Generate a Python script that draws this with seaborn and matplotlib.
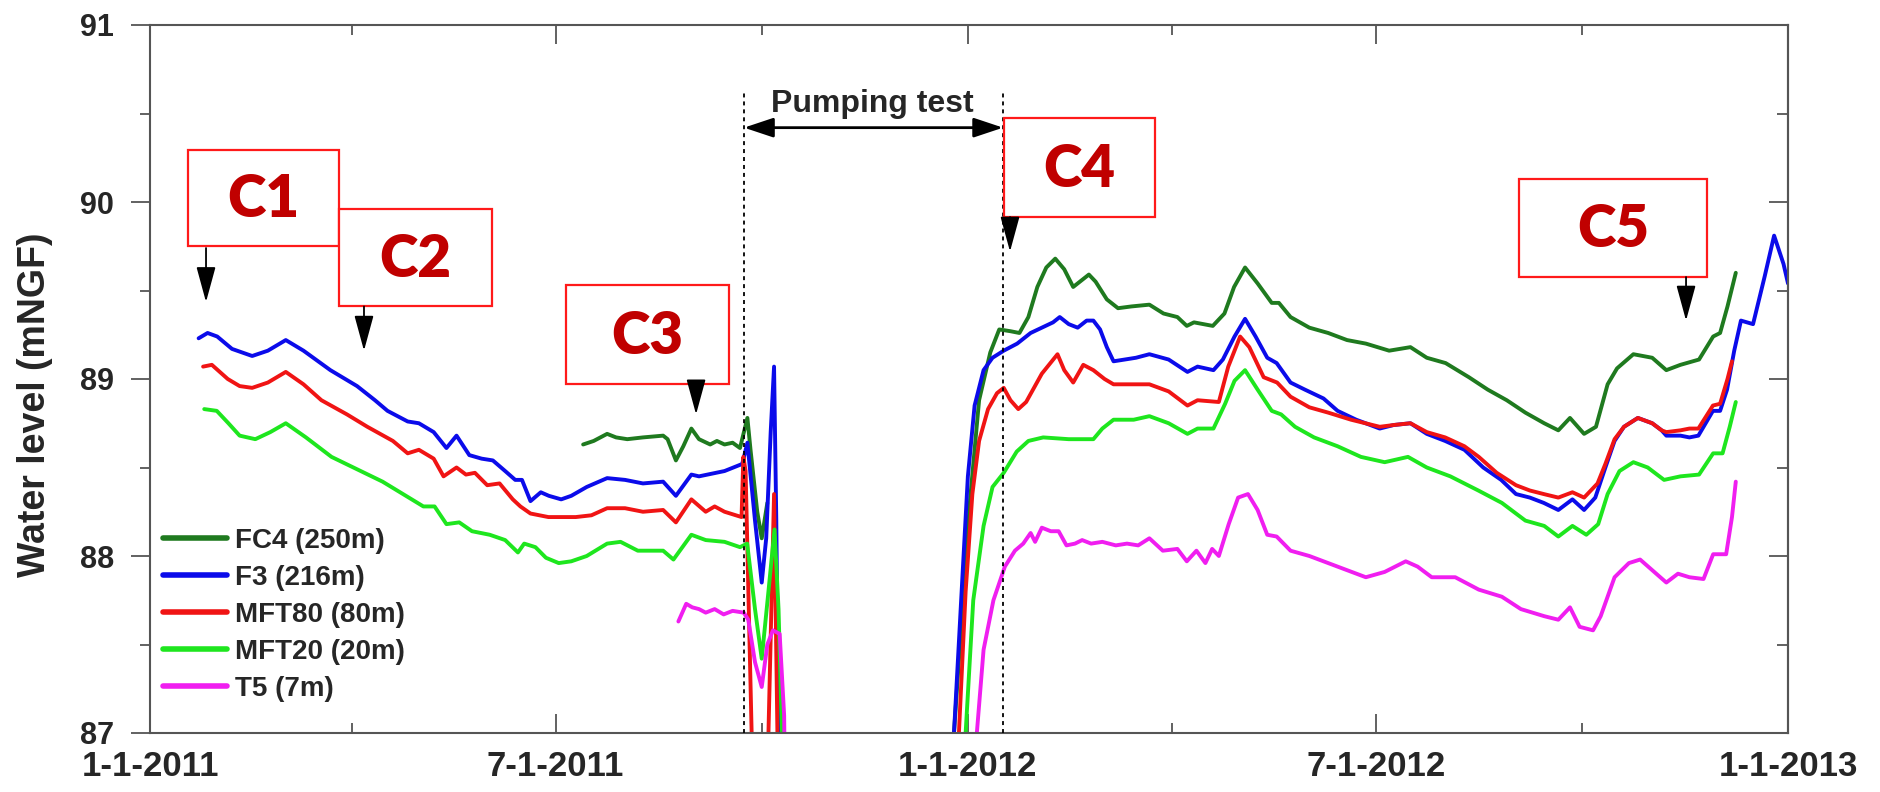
import numpy as np
import pandas as pd
import matplotlib
matplotlib.use("Agg")
import matplotlib.pyplot as plt
import matplotlib.dates as mdates
from matplotlib.ticker import MultipleLocator
from matplotlib.patches import Rectangle
import seaborn as sns

# ---------------- data (day offset from 1-1-2011, water level mNGF) ----------------
wells = ["FC4 (250m)", "F3 (216m)", "MFT80 (80m)", "MFT20 (20m)", "T5 (7m)"]
colors = ["#1f7a1f", "#0b0bea", "#f01414", "#1ee61e", "#f01ef0"]

fc4 = [(193.3, 88.63), (198, 88.65), (204, 88.69), (208, 88.67), (213, 88.66), (220, 88.67),
       (229, 88.68), (231, 88.66), (234.7, 88.54), (238, 88.62), (241.6, 88.72), (245, 88.66),
       (250, 88.63), (253, 88.65), (256.4, 88.63), (260, 88.64), (263.3, 88.61), (266.6, 88.78),
       (268, 88.6), (271, 88.25), (273, 88.10), (275.5, 88.3), None,
       (354, 86.0), (358.8, 87.0), (362, 87.6), (366, 88.32), (370, 88.88), (375, 89.15),
       (379, 89.28), (384, 89.27), (388, 89.26), (392, 89.35), (396, 89.52), (400, 89.63),
       (404, 89.68), (408, 89.62), (412, 89.52), (416, 89.56), (419, 89.59), (422, 89.55),
       (427, 89.45), (432, 89.40), (438, 89.41), (446, 89.42), (452.3, 89.37), (458.5, 89.35),
       (462.7, 89.30), (465.9, 89.32), (474.3, 89.30), (479.5, 89.37), (483.8, 89.52),
       (488.7, 89.63), (494.3, 89.54), (500.6, 89.43), (503.8, 89.43), (509, 89.35),
       (517.4, 89.29), (525.8, 89.26), (534.2, 89.22), (542.6, 89.20), (553, 89.16),
       (562.5, 89.18), (569.8, 89.12), (578.2, 89.09), (588.6, 89.01), (597, 88.94),
       (605.5, 88.88), (613.8, 88.81), (622.2, 88.75), (628.5, 88.71), (633.7, 88.78),
       (640, 88.69), (645.3, 88.73), (650.5, 88.97), (654.7, 89.06), (662, 89.14),
       (670.4, 89.12), (676.7, 89.05), (683, 89.08), (691.3, 89.11), (697.6, 89.24),
       (700.7, 89.26), (704, 89.41), (707.7, 89.60)]

f3 = [(21.7, 89.23), (25.7, 89.26), (30, 89.24), (36.6, 89.17), (45.6, 89.13), (52.6, 89.16),
      (60.6, 89.22), (68.5, 89.16), (80.5, 89.05), (92.4, 88.96), (100.4, 88.88), (106, 88.82),
      (115, 88.76), (120, 88.75), (126.6, 88.70), (132.3, 88.61), (136.8, 88.68), (142.5, 88.57),
      (148, 88.55), (153, 88.54), (158.5, 88.48), (163, 88.43), (166, 88.43), (169.8, 88.31),
      (174.4, 88.36), (178, 88.34), (183.5, 88.32), (188, 88.34), (194.9, 88.39), (204, 88.44),
      (212, 88.43), (220, 88.41), (229, 88.42), (234.7, 88.34), (241.6, 88.46), (245, 88.45),
      (256.4, 88.48), (264.3, 88.52), (266.6, 88.64), (270, 88.2), (273, 87.85), (275, 88.1),
      (277, 88.7), (278.5, 89.07), (279.5, 88.2), (280.5, 87.0), (282, 86.0), None,
      (355, 86.0), (358.8, 87.0), (362, 87.75), (365, 88.45), (368, 88.85), (372, 89.05),
      (376, 89.12), (381, 89.16), (387, 89.20), (393, 89.26), (398, 89.29), (403, 89.32),
      (406, 89.35), (410, 89.31), (414, 89.29), (418, 89.33), (421, 89.33), (424, 89.28),
      (427, 89.18), (430, 89.10), (435, 89.11), (440, 89.12), (446, 89.14), (454.6, 89.11),
      (463, 89.04), (467.5, 89.07), (474.6, 89.05), (478.8, 89.11), (484, 89.24), (488.7, 89.34),
      (493.4, 89.24), (498.6, 89.12), (502.8, 89.09), (509, 88.98), (515.4, 88.94),
      (523.7, 88.89), (530, 88.82), (538.3, 88.77), (548.8, 88.72), (555, 88.74), (562.5, 88.75),
      (569.8, 88.69), (578, 88.65), (586.6, 88.60), (595, 88.50), (603, 88.43), (609.6, 88.35),
      (615.8, 88.33), (622, 88.30), (628.5, 88.26), (634.8, 88.32), (640, 88.26), (645, 88.33),
      (649.5, 88.50), (653.6, 88.65), (657.8, 88.73), (664, 88.78), (670.4, 88.75),
      (674.6, 88.71), (676.7, 88.68), (683, 88.68), (687, 88.67), (691, 88.68), (697.5, 88.82),
      (700.7, 88.82), (703.8, 88.94), (707, 89.16), (710, 89.33), (715.4, 89.31),
      (720.6, 89.58), (724.8, 89.81), (729, 89.65), (731, 89.54)]

mft80 = [(23.7, 89.07), (27.6, 89.08), (34.7, 89.00), (40, 88.96), (45.6, 88.95), (52.6, 88.98),
         (60.6, 89.04), (68.5, 88.97), (76.5, 88.88), (87.9, 88.80), (97, 88.73), (108.4, 88.65),
         (115, 88.58), (120, 88.60), (126.6, 88.55), (131, 88.45), (136.8, 88.50), (141, 88.46),
         (145, 88.47), (150.5, 88.40), (156, 88.41), (161.9, 88.32), (165.3, 88.28),
         (169.8, 88.24), (177.8, 88.22), (185, 88.22), (190, 88.22), (197, 88.23), (204, 88.27),
         (212, 88.27), (220, 88.25), (229, 88.26), (234.7, 88.19), (241.6, 88.32), (248, 88.25),
         (252, 88.28), (256.4, 88.25), (264, 88.22), (264.8, 88.56), (265.8, 88.48),
         (268.5, 87.0), (269.5, 86.0), None,
         (275, 86.0), (276, 87.0), (278.5, 88.35), (280, 87.0), (281, 86.0), None,
         (357, 86.0), (361, 87.0), (364, 87.8), (367, 88.35), (370, 88.65), (374, 88.83),
         (378, 88.92), (381, 88.95), (384, 88.88), (387.5, 88.83), (391, 88.87), (398, 89.03),
         (405, 89.14), (408, 89.05), (412, 88.98), (416.5, 89.08), (421, 89.05), (426, 89.00),
         (430, 88.97), (436, 88.97), (446, 88.97), (454.6, 88.93), (463, 88.85), (467.5, 88.88),
         (477, 88.87), (481.2, 89.07), (486.5, 89.24), (490.6, 89.18), (497, 89.01),
         (503, 88.98), (509, 88.90), (517.4, 88.84), (525.8, 88.81), (536, 88.77),
         (548.8, 88.73), (555, 88.74), (562.5, 88.75), (569.8, 88.70), (578, 88.67),
         (586.6, 88.62), (593, 88.56), (601, 88.47), (609.6, 88.40), (615.8, 88.37),
         (622, 88.35), (628.5, 88.33), (634.8, 88.36), (640, 88.33), (646, 88.41),
         (649.5, 88.52), (653.6, 88.66), (657.8, 88.73), (664, 88.78), (670.4, 88.75),
         (674.6, 88.71), (676.7, 88.70), (683, 88.71), (687, 88.72), (691, 88.72),
         (697.5, 88.85), (700.7, 88.86), (704, 89.00), (706, 89.10)]

mft20 = [(24.2, 88.83), (29.8, 88.82), (35, 88.75), (40, 88.68), (47, 88.66), (53.7, 88.70),
         (60.6, 88.75), (69.6, 88.67), (81, 88.56), (92.4, 88.49), (103.8, 88.42), (112.9, 88.35),
         (122, 88.28), (127, 88.28), (132.3, 88.18), (138, 88.19), (143.7, 88.14), (151.6, 88.12),
         (158.5, 88.09), (164.2, 88.02), (167, 88.07), (172, 88.05), (176.7, 87.99),
         (182.4, 87.96), (188, 87.97), (194.9, 88.00), (204, 88.07), (210, 88.08),
         (217.7, 88.03), (229, 88.03), (233.6, 87.98), (241.6, 88.12), (248, 88.09),
         (256.4, 88.08), (263.3, 88.05), (266.5, 88.07), (270, 87.7), (273, 87.42), (276, 87.8),
         (278.7, 88.15), (280.5, 87.7), (282, 87.0), (283, 86.0), None,
         (360, 86.0), (364, 87.0), (367.4, 87.75), (372, 88.17), (376, 88.39), (381, 88.47),
         (386.8, 88.59), (392, 88.65), (398.6, 88.67), (410, 88.66), (421, 88.66), (425, 88.72),
         (430, 88.77), (439, 88.77), (446, 88.79), (454.6, 88.75), (463, 88.69), (467.5, 88.72),
         (474.6, 88.72), (479.8, 88.86), (484, 88.99), (488.7, 89.05), (494.3, 88.94),
         (500.6, 88.82), (504.8, 88.80), (511, 88.73), (519.5, 88.67), (530, 88.62),
         (540.4, 88.56), (551, 88.53), (561.4, 88.56), (569.8, 88.50), (580.3, 88.45),
         (592.8, 88.37), (603.3, 88.30), (613.8, 88.20), (622.2, 88.17), (628.5, 88.11),
         (634.8, 88.17), (641, 88.12), (646.3, 88.18), (650.5, 88.35), (655.8, 88.48),
         (662, 88.53), (668.4, 88.50), (675.7, 88.43), (683, 88.45), (691.3, 88.46),
         (697.6, 88.58), (701.8, 88.58), (705, 88.73), (707.7, 88.87)]

t5 = [(235.8, 87.63), (239.3, 87.73), (242, 87.71), (245, 87.70), (248, 87.68), (252, 87.70),
      (256, 87.67), (260, 87.69), (265, 87.68), (267, 87.64), (270, 87.40), (273, 87.26),
      (275.5, 87.5), (278, 87.58), (281, 87.56), (283, 87.1), (284, 86.0), None,
      (366, 86.0), (369, 87.0), (372, 87.47), (376.4, 87.75), (381.5, 87.94), (386, 88.03),
      (389.7, 88.07), (393, 88.13), (395, 88.08), (398, 88.16), (402, 88.14), (405.5, 88.14),
      (409, 88.06), (412.8, 88.07), (416, 88.09), (420, 88.07), (425, 88.08), (431, 88.06),
      (436, 88.07), (441, 88.06), (446, 88.10), (452, 88.03), (458.5, 88.04), (462.7, 87.97),
      (467, 88.03), (471, 87.96), (474, 88.04), (477, 88.00), (481.4, 88.18), (485.6, 88.33),
      (490, 88.35), (494.3, 88.26), (498.6, 88.12), (502.8, 88.11), (509, 88.03),
      (517.4, 88.00), (525.8, 87.96), (534.2, 87.92), (542.6, 87.88), (551, 87.91),
      (560.4, 87.97), (565.7, 87.94), (572, 87.88), (582.5, 87.88), (593, 87.81),
      (603.3, 87.77), (611.8, 87.70), (622.2, 87.66), (628.5, 87.64), (633.7, 87.71),
      (638, 87.60), (644, 87.58), (647.4, 87.66), (653.6, 87.88), (660, 87.96), (665, 87.98),
      (670.4, 87.92), (676.7, 87.85), (681.9, 87.90), (687, 87.88), (693.3, 87.87),
      (697.6, 88.01), (703.4, 88.01), (706, 88.22), (707.7, 88.42)]

series = [fc4, f3, mft80, mft20, t5]

x_tick_labels = ["1-1-2011", "7-1-2011", "1-1-2012", "7-1-2012", "1-1-2013"]
x_tick_dates = ["2011-01-01", "2011-07-01", "2012-01-01", "2012-07-01", "2013-01-01"]
pump_start, pump_end = 265.1, 380.7
campaigns = ["C1", "C2", "C3", "C4", "C5"]
campaign_days = [25, 95.5, 243.7, 383.8, 685.5]

# ---------------- build long table ----------------
base = pd.Timestamp("2011-01-01")
rows = []
seg = 0
for name, pts in zip(wells, series):
    seg += 1
    for p in pts:
        if p is None:
            seg += 1
            continue
        rows.append((name, seg, base + pd.Timedelta(days=p[0]), p[1]))
df = pd.DataFrame(rows, columns=["well", "seg", "date", "level"])


def dnum(day):
    return mdates.date2num(base + pd.Timedelta(days=day))


# ---------------- figure ----------------
sns.set_theme(style="white")
plt.rcParams["font.family"] = ["Liberation Sans", "DejaVu Sans"]
plt.rcParams["font.weight"] = "bold"

fig = plt.figure(figsize=(18.81, 7.92), dpi=100)
ax = fig.add_axes([150 / 1881, 59 / 792, 1638 / 1881, 708 / 792])

sns.lineplot(data=df, x="date", y="level", hue="well", units="seg", estimator=None,
             sort=False, hue_order=wells, palette=dict(zip(wells, colors)),
             linewidth=2.8, ax=ax, legend=True)

ax.set_xlim(base, pd.Timestamp("2013-01-01"))
ax.set_ylim(87, 91)

ax.set_xticks(pd.to_datetime(x_tick_dates))
ax.set_xticklabels(x_tick_labels)
ax.xaxis.set_minor_locator(mdates.MonthLocator(bymonth=[4, 10]))
ax.set_yticks([87, 88, 89, 90, 91])
ax.yaxis.set_minor_locator(MultipleLocator(0.5))

spine_c = "#555555"
for s in ax.spines.values():
    s.set_color(spine_c)
    s.set_linewidth(1.5)

ax.tick_params(axis="x", which="both", direction="in", top=True, bottom=True,
               color=spine_c, width=1.3)
ax.tick_params(axis="x", which="major", length=14, labelsize=25, pad=12)
ax.tick_params(axis="x", which="minor", length=7)
ax.tick_params(axis="y", which="both", direction="out", left=True, right=False,
               color=spine_c, width=1.3)
ax.tick_params(axis="y", which="major", length=14, labelsize=22, pad=12)
ax.tick_params(axis="y", which="minor", length=7)

sec = ax.secondary_yaxis("right")
sec.set_yticks([87, 88, 89, 90, 91])
sec.yaxis.set_minor_locator(MultipleLocator(0.5))
sec.tick_params(which="both", direction="in", labelright=False, color=spine_c, width=1.3)
sec.tick_params(which="major", length=14)
sec.tick_params(which="minor", length=8)
sec.spines["right"].set_color(spine_c)
sec.spines["right"].set_linewidth(1.5)

for lab in ax.get_xticklabels() + ax.get_yticklabels():
    lab.set_fontweight("bold")

ax.set_xlabel("")
ax.set_ylabel("Water level (mNGF)", fontsize=27, fontweight="bold")
ax.yaxis.set_label_coords(-0.059, 0.463)

# legend
handles, labels = ax.get_legend_handles_labels()
leg = ax.legend(handles, labels, loc="upper left", bbox_to_anchor=(0.008, 0.29),
                frameon=False, fontsize=20, handlelength=2.3, handletextpad=0.3,
                labelspacing=0.4, borderpad=0, borderaxespad=0)
for t in leg.get_texts():
    t.set_fontweight("bold")
for h in leg.get_lines():
    h.set_linewidth(4)

# pumping test markers
ax.vlines([dnum(pump_start), dnum(pump_end)], 87, 90.62, colors="black",
          linestyles=(0, (2.2, 2.2)), linewidth=1.3, zorder=3)
ax.annotate("", xy=(dnum(pump_end), 90.42), xytext=(dnum(pump_start), 90.42),
            arrowprops=dict(arrowstyle="<|-|>,head_length=0.9,head_width=0.3",
                            color="black", lw=2, mutation_scale=20,
                            shrinkA=0, shrinkB=0))
ax.text(dnum(322.2), 90.51, "Pumping test", ha="center", va="baseline",
        fontsize=23, fontweight="bold")

# campaign boxes and arrows
boxes = [(17.0, 84.3, 89.751, 90.294),
         (84.3, 152.6, 89.412, 89.960),
         (185.6, 258.4, 88.972, 89.531),
         (381.1, 448.5, 89.915, 90.475),
         (611.0, 694.8, 89.576, 90.130)]
arrows = [(89.74, 89.435), (89.41, 89.16), (88.97, 88.80), (89.915, 89.72), (89.576, 89.33)]
for lab, (d0, d1, y0, y1), cd, (ya, yb) in zip(campaigns, boxes, campaign_days, arrows):
    ax.add_patch(Rectangle((dnum(d0), y0), dnum(d1) - dnum(d0), y1 - y0,
                           facecolor="white", edgecolor="#ff1a1a", lw=1.6, zorder=5))
    ax.text((dnum(d0) + dnum(d1)) / 2, (y0 + y1) / 2 - 0.01, lab, ha="center", va="center",
            fontsize=42, fontweight="heavy", color="#c00000",
            family=["Lato", "DejaVu Sans"], zorder=6)
    ax.annotate("", xy=(dnum(cd), yb), xytext=(dnum(cd), ya),
                arrowprops=dict(arrowstyle="-|>,head_length=1.1,head_width=0.3",
                                color="black", lw=1.3, mutation_scale=20,
                                shrinkA=0, shrinkB=0), zorder=6)

fig.savefig("out.png", dpi=100, facecolor="white")
